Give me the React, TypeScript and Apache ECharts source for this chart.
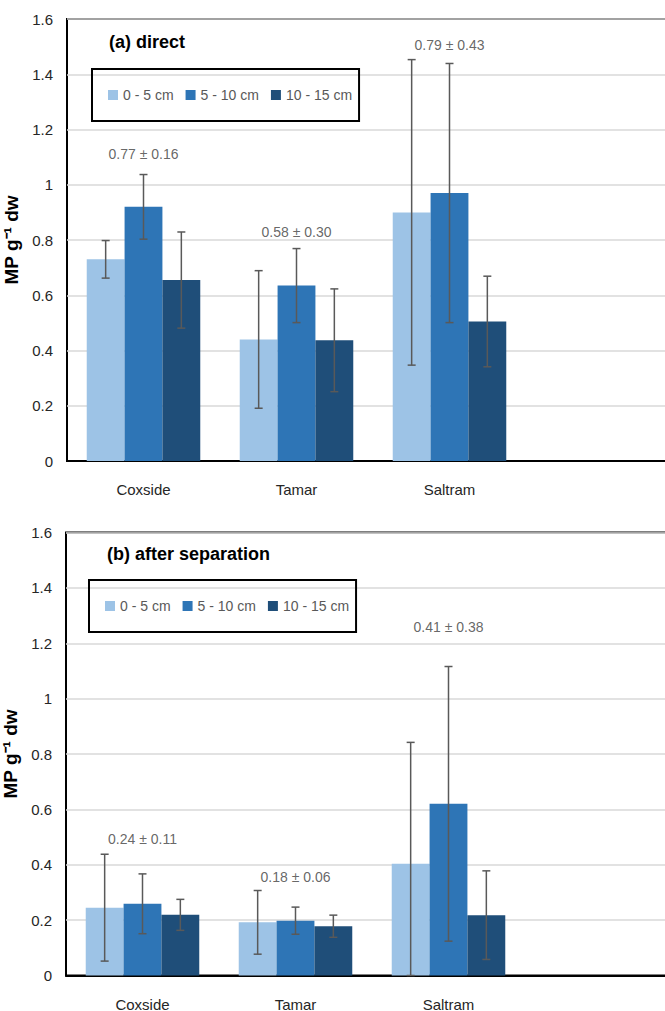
import React, { useEffect, useRef } from 'react';
import * as echarts from 'echarts';

// Categories (the 4th, empty, is the part of the plot area cut off at the right edge)
const categories = ['Coxside', 'Tamar', 'Saltram', ''];
const depthNames = ['0 - 5 cm', '5 - 10 cm', '10 - 15 cm'];
const depthColors = ['#9dc3e6', '#2e75b6', '#1f4e79'];
const yTicks = { min: 0, max: 1.6, interval: 0.2 };

// (a) direct — means and ± error
const directShallow = [0.73, 0.44, 0.9];
const directMid = [0.92, 0.635, 0.97];
const directDeep = [0.655, 0.437, 0.505];
const directShallowErr = [0.068, 0.249, 0.553];
const directMidErr = [0.117, 0.134, 0.469];
const directDeepErr = [0.174, 0.186, 0.164];
const directNotes = ['0.77 ± 0.16', '0.58 ± 0.30', '0.79 ± 0.43'];
const directNoteY = [1.11, 0.83, 1.505];

// (b) after separation — means and ± error
const sepShallow = [0.245, 0.192, 0.404];
const sepMid = [0.259, 0.198, 0.62];
const sepDeep = [0.219, 0.178, 0.218];
const sepShallowErr = [0.193, 0.115, 0.438];
const sepMidErr = [0.108, 0.049, 0.496];
const sepDeepErr = [0.056, 0.04, 0.16];
const sepNotes = ['0.24 ± 0.11', '0.18 ± 0.06', '0.41 ± 0.38'];
const sepNoteY = [0.494, 0.354, 1.258];

const FONT = '"Liberation Sans", Arial, sans-serif';
const BAR_FRACTION = 0.742;

function buildPanel(
  gi: number,
  means: number[][],
  errs: number[][],
  notes: string[],
  noteY: number[]
) {
  const series: any[] = [];
  means.forEach((vals, k) => {
    series.push({
      type: 'bar',
      name: depthNames[k],
      xAxisIndex: gi,
      yAxisIndex: gi,
      data: vals,
      barGap: '0%',
      barCategoryGap: ((1 - BAR_FRACTION) * 100).toFixed(1) + '%',
      itemStyle: { color: depthColors[k] },
      emphasis: { disabled: true },
    });
  });
  const errData: any[] = [];
  means.forEach((vals, k) => {
    vals.forEach((v, c) => {
      const e = errs[k][c];
      errData.push([c, Math.max(0, v - e), v + e, k]);
    });
  });
  series.push({
    type: 'custom',
    xAxisIndex: gi,
    yAxisIndex: gi,
    data: errData,
    encode: { x: 0, y: [1, 2] },
    z: 5,
    silent: true,
    renderItem: (params: any, api: any) => {
      const cat = api.value(0);
      const lo = api.value(1);
      const hi = api.value(2);
      const k = api.value(3);
      const band = api.size([1, 0])[0];
      const bw = (band * BAR_FRACTION) / 3;
      const x = api.coord([cat, 0])[0] + (k - 1) * bw;
      const yLo = api.coord([cat, lo])[1];
      const yHi = api.coord([cat, hi])[1];
      const cap = 4;
      const st = { stroke: '#595959', lineWidth: 1.5 };
      return {
        type: 'group',
        children: [
          { type: 'line', shape: { x1: x, y1: yLo, x2: x, y2: yHi }, style: st },
          { type: 'line', shape: { x1: x - cap, y1: yHi, x2: x + cap, y2: yHi }, style: st },
          { type: 'line', shape: { x1: x - cap, y1: yLo, x2: x + cap, y2: yLo }, style: st },
        ],
      };
    },
  });
  series.push({
    type: 'scatter',
    xAxisIndex: gi,
    yAxisIndex: gi,
    symbolSize: 0,
    silent: true,
    data: notes.map((t, c) => [c, noteY[c], t]),
    label: {
      show: true,
      position: 'inside',
      formatter: (p: any) => p.data[2],
      color: '#404040',
      fontSize: 14,
      fontFamily: FONT,
    },
    z: 6,
  });
  return series;
}

export default function App() {
  const ref = useRef<HTMLDivElement>(null);
  useEffect(() => {
    if (!ref.current) return;
    const chart = echarts.init(ref.current, undefined, { renderer: 'svg' });
    const grids = [
      { left: 67, top: 19, width: 612, height: 442 },
      { left: 66, top: 532.5, width: 612, height: 443 },
    ];
    const xAxes = grids.map((_, i) => ({
      type: 'category',
      gridIndex: i,
      data: categories,
      axisTick: { show: false },
      axisLine: { show: true, lineStyle: { color: '#000', width: 2 } },
      axisLabel: { color: '#262626', fontSize: 15, fontFamily: FONT, margin: 21 },
    }));
    const yAxes = grids.map((_, i) => ({
      type: 'value',
      gridIndex: i,
      min: yTicks.min,
      max: yTicks.max,
      interval: yTicks.interval,
      name: 'MP g⁻¹ dw',
      nameLocation: 'middle',
      nameGap: 38,
      nameTextStyle: { color: '#000', fontSize: 19, fontWeight: 'bold', fontFamily: FONT },
      axisLine: { show: false },
      axisTick: { show: false },
      axisLabel: { color: '#262626', fontSize: 15, fontFamily: FONT, margin: 14 },
      splitLine: { show: true, lineStyle: { color: '#d9d9d9', width: 1.5 } },
    }));
    const legendBase = {
      orient: 'horizontal',
      data: depthNames,
      icon: 'rect',
      itemWidth: 10,
      itemHeight: 10,
      itemGap: 12,
      borderColor: '#000',
      borderWidth: 2,
      padding: [19, 7, 19, 16],
      textStyle: { color: '#595959', fontSize: 14, fontFamily: FONT },
      selectedMode: false,
    };
    chart.setOption({
      animation: false,
      title: [
        {
          text: '(a) direct',
          left: 109,
          top: 33,
          padding: 0,
          textStyle: { color: '#000', fontSize: 18, fontWeight: 'bold', fontFamily: FONT },
        },
        {
          text: '(b) after separation',
          left: 107,
          top: 545,
          padding: 0,
          textStyle: { color: '#000', fontSize: 18, fontWeight: 'bold', fontFamily: FONT },
        },
      ],
      legend: [
        { ...legendBase, left: 92, top: 69 },
        { ...legendBase, left: 89, top: 580 },
      ],
      grid: grids.map((g) => ({
        ...g,
        show: true,
        borderColor: '#000',
        borderWidth: 2,
        backgroundColor: 'transparent',
        containLabel: false,
        outerBoundsMode: 'none',
      })),
      xAxis: xAxes,
      yAxis: yAxes,
      series: [
        ...buildPanel(
          0,
          [directShallow, directMid, directDeep],
          [directShallowErr, directMidErr, directDeepErr],
          directNotes,
          directNoteY
        ),
        ...buildPanel(
          1,
          [sepShallow, sepMid, sepDeep],
          [sepShallowErr, sepMidErr, sepDeepErr],
          sepNotes,
          sepNoteY
        ),
      ],
    });
    return () => chart.dispose();
  }, []);
  return (
    <div
      style={{ position: 'absolute', left: 0, top: 0, width: 665, height: 1011, overflow: 'hidden', background: '#fff' }}
    >
      <div ref={ref} style={{ width: 700, height: 1011 }} />
    </div>
  );
}
